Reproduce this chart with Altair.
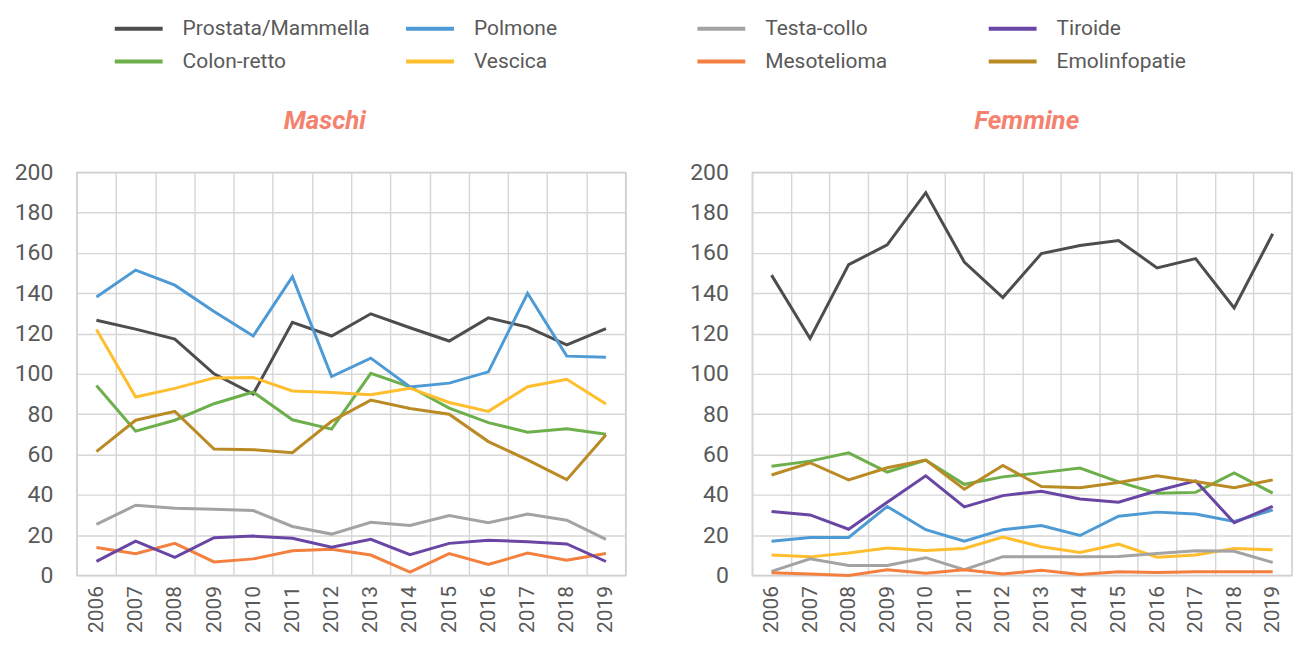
import altair as alt
import pandas as pd

years = ["2006", "2007", "2008", "2009", "2010", "2011", "2012",
         "2013", "2014", "2015", "2016", "2017", "2018", "2019"]

# legend is filled column by column (2 rows x 4 columns)
series = ["Prostata/Mammella", "Colon-retto", "Polmone", "Vescica",
          "Testa-collo", "Mesotelioma", "Tiroide", "Emolinfopatie"]
colors = ["#4D4D4D", "#6DAF4B", "#4E9AD4", "#FFBE2D",
          "#A3A3A3", "#F3803E", "#6A46A4", "#BA8A25"]

# Maschi
m_prostata = [126.6, 122.2, 117.3, 100.0, 90.0, 125.6, 118.8, 129.8, 122.9, 116.3, 127.8, 123.2, 114.4, 122.5]
m_colon = [94.2, 71.6, 77.0, 85.2, 91.0, 77.2, 72.6, 100.3, 93.6, 83.0, 75.8, 71.1, 72.8, 70.0]
m_polmone = [138.2, 151.5, 144.0, 131.0, 118.8, 148.2, 98.7, 107.8, 93.5, 95.4, 101.0, 140.0, 108.8, 108.2]
m_vescica = [122.0, 88.5, 92.8, 98.0, 98.2, 91.5, 90.7, 89.6, 92.9, 85.8, 81.4, 93.6, 97.3, 85.0]
m_testa = [25.3, 34.8, 33.3, 32.8, 32.2, 24.3, 20.5, 26.4, 24.8, 29.7, 26.1, 30.4, 27.4, 17.9]
m_meso = [13.8, 10.8, 15.9, 6.7, 8.2, 12.2, 13.0, 10.1, 1.6, 10.8, 5.4, 11.1, 7.5, 10.9]
m_tiroide = [7.0, 17.0, 9.0, 18.7, 19.5, 18.4, 14.0, 17.9, 10.3, 15.9, 17.4, 16.7, 15.6, 6.9]
m_emo = [61.4, 77.0, 81.4, 62.7, 62.4, 60.9, 76.5, 87.0, 82.8, 80.0, 66.4, 57.3, 47.5, 69.8]

# Femmine
f_prostata = [149.0, 117.6, 154.2, 164.0, 189.9, 155.5, 137.9, 159.7, 163.7, 166.2, 152.6, 157.2, 132.7, 169.5]
f_colon = [54.2, 56.7, 60.8, 51.3, 57.2, 45.2, 48.9, 51.0, 53.3, 46.4, 40.8, 41.2, 50.8, 40.8]
f_polmone = [17.0, 18.8, 18.8, 34.2, 22.7, 17.0, 22.7, 24.7, 19.8, 29.4, 31.4, 30.5, 26.8, 32.5]
f_vescica = [10.1, 9.2, 11.1, 13.6, 12.4, 13.4, 19.0, 14.2, 11.4, 15.5, 9.0, 10.1, 13.4, 12.7]
f_testa = [2.0, 8.2, 4.9, 4.9, 8.8, 2.8, 9.3, 9.3, 9.3, 9.4, 10.9, 12.2, 12.0, 6.4]
f_meso = [1.3, 0.7, 0.0, 2.8, 1.1, 2.8, 0.7, 2.6, 0.5, 1.8, 1.5, 1.8, 1.8, 1.8]
f_tiroide = [31.7, 30.0, 22.9, 36.3, 49.4, 34.0, 39.6, 41.8, 37.9, 36.3, 42.0, 46.9, 26.1, 34.3]
f_emo = [49.8, 55.9, 47.4, 53.4, 57.2, 42.8, 54.6, 44.1, 43.5, 46.1, 49.4, 46.6, 43.5, 47.4]

maschi = [m_prostata, m_colon, m_polmone, m_vescica, m_testa, m_meso, m_tiroide, m_emo]
femmine = [f_prostata, f_colon, f_polmone, f_vescica, f_testa, f_meso, f_tiroide, f_emo]


def long_df(values_list):
    rows = []
    for name, vals in zip(series, values_list):
        for y, v in zip(years, vals):
            rows.append({"year": y, "value": v, "series": name})
    return pd.DataFrame(rows)


FONT = "Roboto"
LABEL_COLOR = "#595959"
TITLE_COLOR = "#F4826F"

legend = alt.Legend(
    orient="none", legendX=47, legendY=-159, columns=4, title=None,
    symbolType="M-2.4,0H2.4", symbolSize=400, symbolStrokeWidth=4,
    labelFontSize=21, labelFont=FONT, labelColor=LABEL_COLOR,
    labelOffset=32, columnPadding=28, rowPadding=11, gridAlign="all",
    labelLimit=400, padding=3,
)


def panel(df, title, dx, width):
    return alt.Chart(df).mark_line(strokeWidth=3).encode(
        x=alt.X("year:O", sort=years, title=None,
                scale=alt.Scale(type="band", paddingInner=0, paddingOuter=0),
                axis=alt.Axis(labelAngle=-90, labelFontSize=21, labelFont=FONT,
                              labelColor=LABEL_COLOR, labelPadding=10, ticks=False,
                              domain=False, grid=True, gridColor="#D6D6D6",
                              gridWidth=1.4, tickBand="extent")),
        y=alt.Y("value:Q", title=None, scale=alt.Scale(domain=[0, 200], nice=False),
                axis=alt.Axis(values=[0, 20, 40, 60, 80, 100, 120, 140, 160, 180, 200],
                              labelFontSize=23, labelFont=FONT, labelColor=LABEL_COLOR,
                              labelPadding=24, ticks=False, domain=False,
                              gridColor="#D6D6D6", gridWidth=1.4)),
        color=alt.Color("series:N", scale=alt.Scale(domain=series, range=colors),
                        legend=legend),
    ).properties(
        width=width, height=404,
        title=alt.TitleParams(text=title, fontSize=26, fontWeight="bold",
                              fontStyle="italic", color=TITLE_COLOR, font=FONT,
                              anchor="middle", frame="bounds", offset=27, dx=dx),
    )


left = panel(long_df(maschi), "Maschi", 5, 550)
right = panel(long_df(femmine), "Femmine", 36, 541)

chart = alt.hconcat(left, right, spacing=62).configure_view(
    stroke="#C4C4C4", strokeWidth=1.4
).properties(
    background="white",
    padding={"left": 5, "top": 5, "right": 0, "bottom": 0},
)

chart.save("out.html", embed_options={"renderer": "svg", "actions": False})
